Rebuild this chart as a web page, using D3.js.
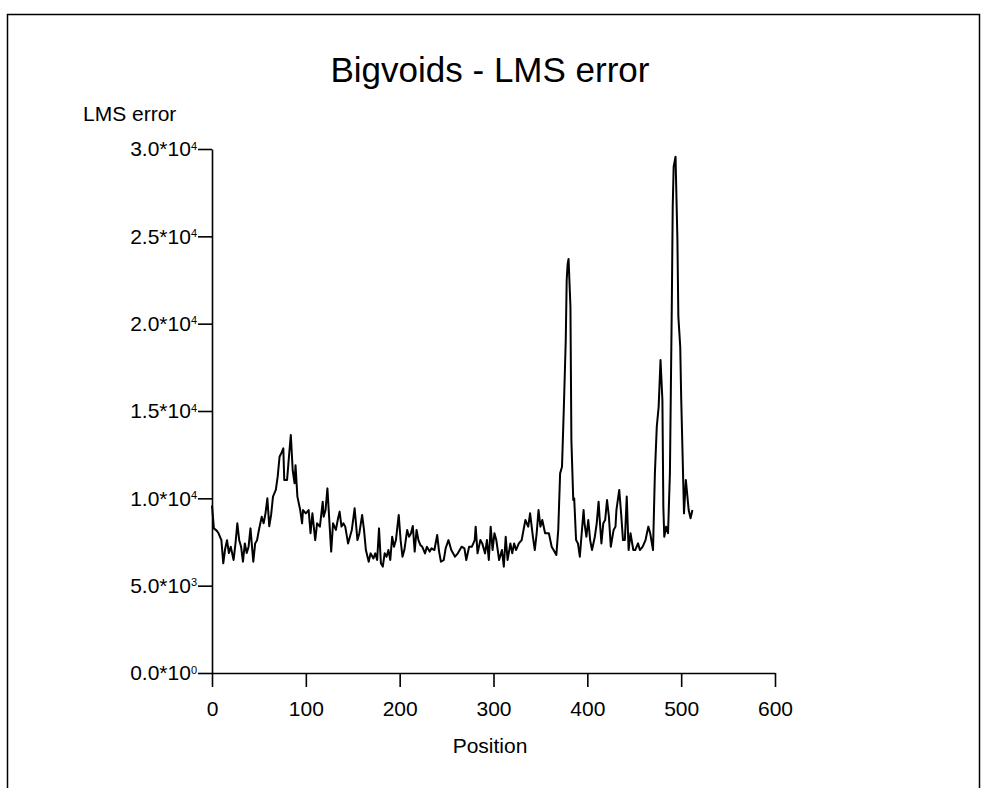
<!DOCTYPE html>
<html>
<head>
<meta charset="utf-8">
<script src="https://cdn.jsdelivr.net/npm/d3@7"></script>
<style>
  body { margin: 0; background: #fff; }
  svg { display: block; font-family: "Liberation Sans", Arial, sans-serif; }
</style>
</head>
<body>
<svg id="chart" width="983" height="788"></svg>
<script>
// data
const title = "Bigvoids - LMS error";
const yLabel = "LMS error";
const xLabel = "Position";
const xTicks = [0, 100, 200, 300, 400, 500, 600];
const yTicks = [0, 5000, 10000, 15000, 20000, 25000, 30000];

const position = [
  0, 2, 5, 7, 10, 12, 14, 16, 18, 20, 23, 25, 27, 29, 31, 33, 35, 37, 39, 41,
  44, 46, 48, 50, 53, 55, 57, 59, 61, 63, 65, 68, 70, 72, 74, 76, 77, 80, 82, 84,
  86, 88, 89, 91, 94, 96, 97, 100, 103, 105, 107, 110, 112, 115, 118, 119, 121, 123, 125, 127,
  129, 132, 134, 136, 138, 140, 142, 145, 147, 149, 152, 155, 157, 160, 162, 164, 167, 169, 172, 174,
  176, 178, 180, 182, 184, 186, 188, 190, 192, 194, 196, 199, 201, 203, 205, 208, 210, 212, 214, 216,
  218, 220, 222, 224, 227, 229, 232, 234, 237, 240, 242, 244, 247, 249, 252, 255, 259, 262, 266, 269,
  271, 274, 277, 280, 281, 283, 286, 288, 291, 293, 295, 297, 299, 301, 303, 306, 309, 311, 313, 315,
  318, 320, 322, 324, 327, 330, 332, 334, 337, 339, 342, 344, 346, 348, 350, 352, 355, 359, 362, 364,
  367, 369, 371, 373, 375, 377, 378, 379, 380, 382, 383, 385, 386, 388, 390, 392, 394, 396, 397, 399,
  401, 403, 405, 408, 410, 412, 413, 415, 417, 419, 421, 423, 425, 428, 430, 431, 434, 436, 438, 440,
  442, 444, 446, 449, 451, 454, 456, 459, 462, 465, 467, 470, 472, 474, 476, 478, 480, 481, 482, 484,
  486, 488, 490, 491, 492, 494, 496, 497, 499, 500, 502, 503, 505, 506, 508, 510, 512
];
const lmsError = [
  9600, 8280, 8150, 8000, 7610, 6280, 7100, 7600, 6870, 7230, 6470, 7400, 8570, 7600, 7230, 6370, 7420, 6870, 7230, 8280,
  6370, 7420, 7600, 8190, 8950, 8570, 9140, 10000, 8400, 9050, 10100, 10480, 11240, 12380, 12600, 12860, 11050, 11050, 12380, 13630,
  11620, 10860, 11900, 10100, 9330, 8570, 9330, 9140, 9330, 8000, 9140, 7600, 8570, 8380, 9810, 8950, 9330, 10570, 8760, 6950,
  8570, 8190, 8760, 9240, 8380, 8570, 8380, 7420, 7800, 8190, 9430, 7610, 7990, 9050, 8190, 7040, 6370, 6850, 6560, 6850,
  6470, 8280, 6280, 6090, 6850, 6660, 7040, 6470, 7800, 7230, 7610, 9050, 7610, 6660, 7040, 8190, 7800, 7990, 8420, 6950,
  8190, 7610, 7330, 7230, 6850, 7230, 6950, 7140, 7040, 7900, 6950, 6370, 6470, 7140, 7610, 7040, 6660, 6850, 7230, 7140,
  6470, 7230, 7230, 7610, 8380, 6850, 7610, 7420, 6850, 7610, 6470, 8380, 7040, 8000, 7610, 6470, 7040, 6090, 7800, 6470,
  7420, 6850, 7420, 7040, 7420, 7610, 8190, 8760, 8380, 9140, 7800, 7040, 8000, 9330, 8380, 8760, 8000, 8000, 7230, 7040,
  6760, 8190, 11430, 11810, 15240, 19060, 22500, 23400, 23700, 20970, 13340, 9900, 10000, 7610, 7420, 6660, 8000, 9330, 8570, 7800,
  8760, 7610, 7040, 7800, 8570, 9810, 8950, 7420, 8570, 8760, 9900, 8950, 7230, 8190, 8380, 9330, 10480, 9140, 7610, 7610,
  10100, 7040, 8000, 7040, 7040, 7420, 7040, 7230, 7610, 8380, 8000, 7040, 11430, 14100, 15240, 17920, 15630, 9520, 7800, 8380,
  8000, 11430, 20970, 26700, 28990, 29560, 24790, 20400, 18680, 15820, 11430, 9140, 11050, 10480, 9330, 8860, 9330
];

const svg = d3.select("#chart");

// outer frame
svg.append("rect")
  .attr("x", 7.5).attr("y", 14.5)
  .attr("width", 972).attr("height", 800)
  .attr("fill", "none").attr("stroke", "#000").attr("stroke-width", 1.5);

const x = d3.scaleLinear().domain([0, 600]).range([212, 775]);
const y = d3.scaleLinear().domain([0, 30000]).range([673, 149]);

// title
svg.append("text")
  .attr("x", 490).attr("y", 82)
  .attr("text-anchor", "middle")
  .style("font-size", "35px")
  .text(title);

// x axis
const gx = svg.append("g")
  .attr("transform", "translate(0,673)")
  .call(d3.axisBottom(x).tickValues(xTicks).tickSize(14).tickSizeOuter(0).tickPadding(14));
gx.selectAll("text").style("font-size", "21px").attr("fill", "#000").attr("font-family", null);
gx.selectAll("path,line").attr("stroke", "#000").attr("stroke-width", 1.6);

// y axis with 10^n labels
const gy = svg.append("g")
  .attr("transform", "translate(212,0)")
  .call(d3.axisLeft(y).tickValues(yTicks).tickSize(14).tickSizeOuter(0).tickPadding(1).tickFormat(""));
gy.selectAll("path,line").attr("stroke", "#000").attr("stroke-width", 1.6);
gy.selectAll(".tick text")
  .attr("fill", "#000")
  .attr("font-family", null)
  .style("font-size", "21px")
  .each(function (d) {
    const e = d === 0 ? 0 : Math.floor(Math.log10(d));
    const m = d / Math.pow(10, e);
    const t = d3.select(this);
    t.append("tspan").text(m.toFixed(1) + "*10");
    t.append("tspan").attr("dy", "-0.6em").style("font-size", "11px").text(e);
  });

// labels
svg.append("text")
  .attr("x", 83).attr("y", 121)
  .style("font-size", "21px")
  .text(yLabel);
svg.append("text")
  .attr("x", 490).attr("y", 753)
  .attr("text-anchor", "middle")
  .style("font-size", "21px")
  .text(xLabel);

// the error curve
const line = d3.line()
  .x((d, i) => x(position[i]))
  .y(d => y(d));
svg.append("path")
  .datum(lmsError)
  .attr("fill", "none")
  .attr("stroke", "#000")
  .attr("stroke-width", 2)
  .attr("stroke-linejoin", "round")
  .attr("d", line);
</script>
</body>
</html>
